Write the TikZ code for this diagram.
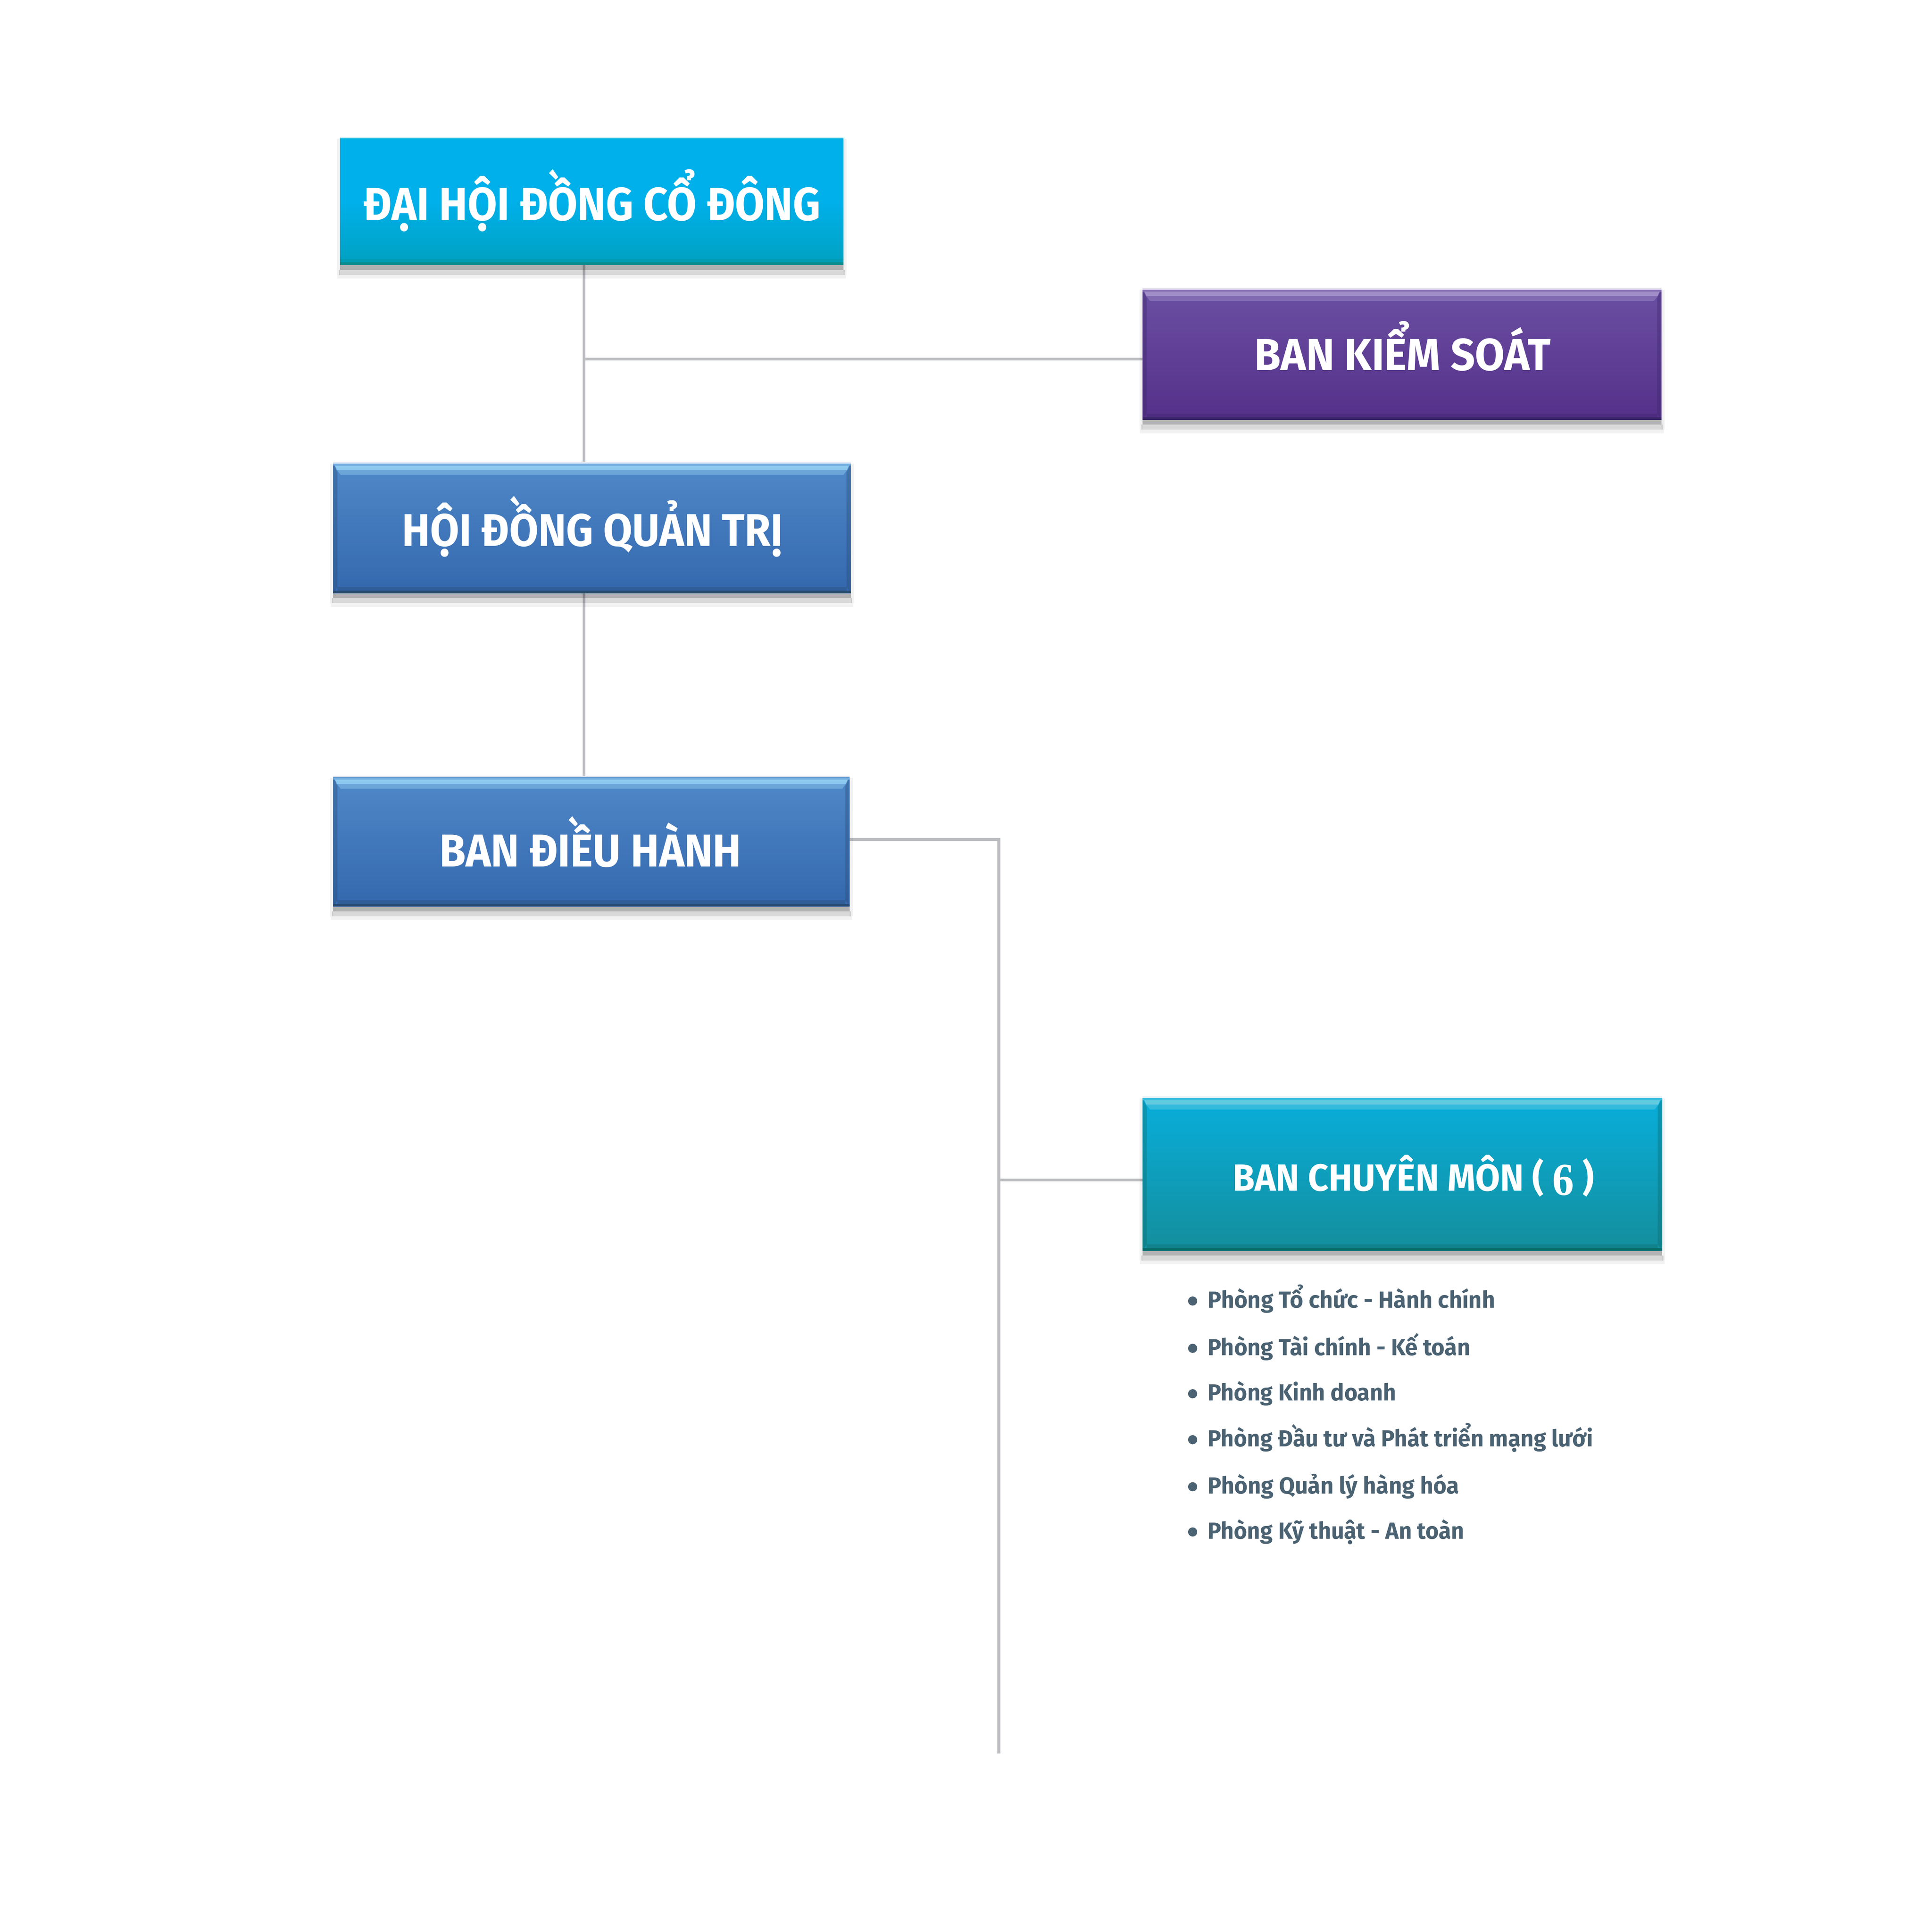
\documentclass[tikz,border=0pt]{standalone}
\usepackage{fontspec}
\setmainfont{Fira Sans}
\newfontfamily\sixfont{Liberation Serif}
\usepackage{graphicx}
\definecolor{conncol}{HTML}{BCBDC0}
\definecolor{listcol}{HTML}{4A6272}
\definecolor{aTop}{HTML}{00B0EA}
\definecolor{aBot}{HTML}{00A1C0}
\definecolor{aEdge}{HTML}{0B8C8C}
\definecolor{aLine}{HTML}{D8EEF6}
\definecolor{bTop}{HTML}{6A4FA2}
\definecolor{bBot}{HTML}{55308A}
\definecolor{bHi}{HTML}{A391CA}
\definecolor{bDark}{HTML}{3A2568}
\definecolor{bLine}{HTML}{E4E0EE}
\definecolor{cTop}{HTML}{4F88C8}
\definecolor{cBot}{HTML}{3468AE}
\definecolor{cHi}{HTML}{92CEF2}
\definecolor{cDark}{HTML}{284A72}
\definecolor{cLine}{HTML}{E2E8F2}
\definecolor{eTop}{HTML}{08AEDB}
\definecolor{eBot}{HTML}{148E9C}
\definecolor{eHi}{HTML}{6ACDE2}
\definecolor{eDark}{HTML}{0C6A6A}
\definecolor{eLine}{HTML}{DDEFF3}
\newcommand{\fitw}[2]{\resizebox{#1}{\height}{#2}}
% shadow under a box, light line above it
\newcommand{\boxback}[2]{%
  \fill[#2] ([yshift=1.6pt]#1.north west) rectangle (#1.north east);
  \fill[black,opacity=0.30] (#1.south west) rectangle ([yshift=-4pt]#1.south east);
  \fill[black,opacity=0.15] ([xshift=-1pt,yshift=-4pt]#1.south west) rectangle ([xshift=1pt,yshift=-8pt]#1.south east);
  \fill[black,opacity=0.05] ([xshift=-2pt,yshift=-8pt]#1.south west) rectangle ([xshift=2pt,yshift=-11pt]#1.south east);
  \fill[black,opacity=0.05] ([xshift=-2.5pt]#1.north west) rectangle ([yshift=-8pt]#1.south west);
  \fill[black,opacity=0.05] ([xshift=2.5pt]#1.north east) rectangle ([yshift=-8pt]#1.south east);
}
% bevel decoration on top of a box
\newcommand{\bevel}[3]{%
  \fill[#3,opacity=0.35] (#1.north west) -- ([xshift=3.5pt,yshift=-7pt]#1.north west) -- ([xshift=3.5pt,yshift=5pt]#1.south west) -- (#1.south west) -- cycle;
  \fill[#3,opacity=0.35] (#1.north east) -- ([xshift=-3.5pt,yshift=-7pt]#1.north east) -- ([xshift=-3.5pt,yshift=5pt]#1.south east) -- (#1.south east) -- cycle;
  \fill[#2,opacity=0.55] (#1.north west) rectangle ([yshift=-1.6pt]#1.north east);
  \fill[#2,opacity=0.95] ([xshift=1.5pt,yshift=-1.6pt]#1.north west) -- ([xshift=-1.5pt,yshift=-1.6pt]#1.north east) -- ([xshift=-3pt,yshift=-5pt]#1.north east) -- ([xshift=3pt,yshift=-5pt]#1.north west) -- cycle;
  \fill[#2,opacity=0.45] ([xshift=3pt,yshift=-5pt]#1.north west) -- ([xshift=-3pt,yshift=-5pt]#1.north east) -- ([xshift=-6pt,yshift=-9pt]#1.north east) -- ([xshift=6pt,yshift=-9pt]#1.north west) -- cycle;
  \fill[#3,opacity=0.35] ([xshift=3.5pt]#1.south west) rectangle ([xshift=-3.5pt,yshift=5pt]#1.south east);
  \fill[#3] (#1.south west) rectangle ([yshift=2pt]#1.south east);
}
\begin{document}
\begin{tikzpicture}[x=1pt,y=-1pt,
  conn/.style={draw=conncol,line width=2.3pt},
  box/.style={rectangle,inner sep=0pt,outer sep=0pt},
  boxA/.style={box,top color=aTop,bottom color=aBot,middle color=aTop},
  boxB/.style={box,top color=bTop,bottom color=bBot},
  boxC/.style={box,top color=cTop,bottom color=cBot},
  boxE/.style={box,top color=eTop,bottom color=eBot},
  ttl/.style={text=white,inner sep=0pt,anchor=base},
  lst/.style={text=listcol,inner sep=0pt,anchor=base west,font=\fontsize{18.8pt}{20pt}\selectfont\bfseries},
  bul/.style={fill=listcol}]
\useasboundingbox[fill=white] (0,0) rectangle (1560,1556);

% ---------- box frames (for connector anchors) ----------
\path (477.75,163) node[box,minimum width=406.5pt,minimum height=102pt] (A) {};
\path (1132,286.5) node[box,minimum width=419pt,minimum height=105pt] (B) {};
\path (478,426.75) node[box,minimum width=418pt,minimum height=104.5pt] (C) {};
\path (477.5,680) node[box,minimum width=417pt,minimum height=104pt] (D) {};
\path (1132.25,948.5) node[box,minimum width=419.5pt,minimum height=123pt] (E) {};

% ---------- connectors ----------
\coordinate (jAC) at (471.5,290);
\coordinate (bus) at (806.5,678);
\coordinate (busEnd) at (806.5,1416);
\coordinate (jE) at (806.5,953);
\draw[conn] (A.south -| jAC) -- (C.north -| jAC);
\draw[conn] (jAC) -- (jAC -| B.west);
\draw[conn] (C.south -| jAC) -- (D.north -| jAC);
\draw[conn] (D.east |- bus) -- (bus) -- (busEnd);
\draw[conn] (jE) -- (jE -| E.west);

% ---------- boxes drawn on top ----------
\boxback{A}{aLine}
\path (A.center) node[boxA,minimum width=406.5pt,minimum height=102pt] (A2) {};
\fill[aEdge] (A2.south west) rectangle ([yshift=2.2pt]A2.south east);
\fill[aEdge,opacity=0.25] ([yshift=2.2pt]A2.south west) rectangle ([yshift=5pt]A2.south east);

\boxback{B}{bLine}
\path (B.center) node[boxB,minimum width=419pt,minimum height=105pt] (B2) {};
\bevel{B2}{bHi}{bDark}

\boxback{C}{cLine}
\path (C.center) node[boxC,minimum width=418pt,minimum height=104.5pt] (C2) {};
\bevel{C2}{cHi}{cDark}

\boxback{D}{cLine}
\path (D.center) node[boxC,minimum width=417pt,minimum height=104pt] (D2) {};
\bevel{D2}{cHi}{cDark}

\boxback{E}{eLine}
\path (E.center) node[boxE,minimum width=419.5pt,minimum height=123pt] (E2) {};
\bevel{E2}{eHi}{eDark}

% ---------- titles ----------
\node[ttl,font=\fontsize{37.7pt}{40pt}\selectfont\bfseries] (At) at (478,178) {\fitw{369pt}{ĐẠI HỘI ĐỒNG CỔ ĐÔNG}};
\node[ttl,font=\fontsize{36.3pt}{40pt}\selectfont\bfseries] (Bt) at (1132.5,299) {\fitw{239pt}{BAN KIỂM SOÁT}};
\node[ttl,font=\fontsize{36.9pt}{40pt}\selectfont\bfseries] (Ct) at (478.5,441) {\fitw{307.7pt}{HỘI ĐỒNG QUẢN TRỊ}};
\node[ttl,font=\fontsize{37.2pt}{40pt}\selectfont\bfseries] (Dt) at (476.75,700) {\fitw{243.5pt}{BAN ĐIỀU HÀNH}};
\node[ttl,font=\fontsize{30.5pt}{34pt}\selectfont\bfseries] (Et) at (1141.3,961.7) {\fitw{291.5pt}{BAN CHUYÊN MÔN ( {\sixfont\bfseries\fontsize{37pt}{38pt}\selectfont\raisebox{-3.5pt}{6}} )}};

% ---------- department list ----------
\fill[bul] (963,1050.7) circle (3.7pt);
\node[lst] (L1) at (975,1056.3) {\fitw{232pt}{Phòng Tổ chức - Hành chính}};
\fill[bul] (963,1088.9) circle (3.7pt);
\node[lst] (L2) at (975,1094.5) {\fitw{212pt}{Phòng Tài chính - Kế toán}};
\fill[bul] (963,1125.6) circle (3.7pt);
\node[lst] (L3) at (975,1131.2) {\fitw{152pt}{Phòng Kinh doanh}};
\fill[bul] (963,1162.7) circle (3.7pt);
\node[lst] (L4) at (975,1168.3) {\fitw{311pt}{Phòng Đầu tư và Phát triển mạng lưới}};
\fill[bul] (963,1200.7) circle (3.7pt);
\node[lst] (L5) at (975,1206.3) {\fitw{203pt}{Phòng Quản lý hàng hóa}};
\fill[bul] (963,1237.2) circle (3.7pt);
\node[lst] (L6) at (975,1242.8) {\fitw{207pt}{Phòng Kỹ thuật - An toàn}};
\end{tikzpicture}
\end{document}
